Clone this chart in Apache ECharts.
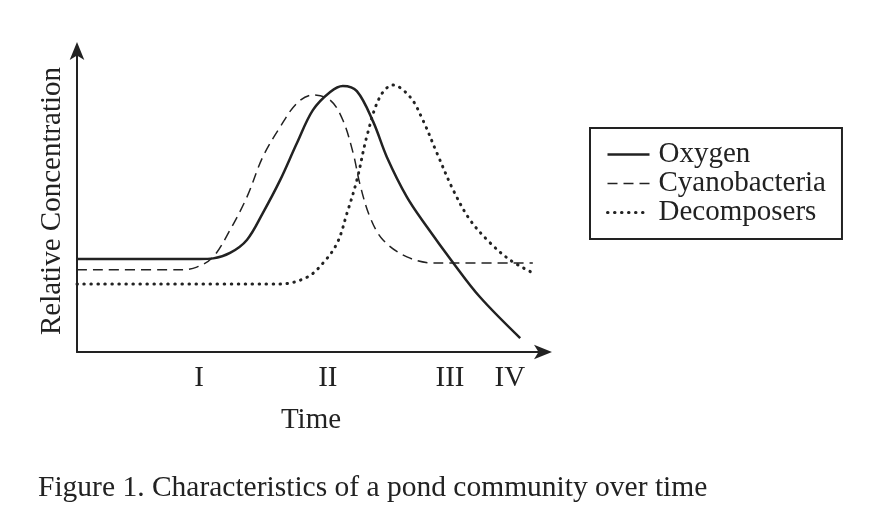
<!DOCTYPE html>
<html>
<head>
<meta charset="utf-8">
<script src="https://cdn.jsdelivr.net/npm/echarts@6/dist/echarts.min.js"></script>
<style>
  html, body { margin: 0; padding: 0; background: #fff; }
  #chart { width: 874px; height: 520px; }
</style>
</head>
<body>
<div id="chart"></div>
<script>
// Relative concentration over time (arbitrary units)
const oxygen = [
  [0, 30.8], [15.6, 30.8], [26.3, 30.8], [29.1, 31.0], [32.7, 32.8], [36.3, 37.1],
  [39.7, 46.0], [43.4, 56.9], [47.0, 69.2], [50.4, 80.1], [54.1, 86.1], [56.8, 88.1],
  [59.8, 86.4], [63.3, 76.2], [66.2, 64.6], [70.5, 51.3], [74.8, 41.4], [80.4, 29.5],
  [86.1, 18.2], [94.7, 4.6]
]
const cyanobacteria = [
  [0, 27.2], [22.0, 27.2], [25.6, 28.1], [29.1, 31.5], [32.7, 40.4], [36.3, 51.3],
  [39.7, 64.6], [43.4, 74.5], [47.0, 82.4], [50.4, 85.1], [54.1, 83.4], [56.8, 76.8],
  [59.0, 65.9], [60.5, 55.3], [62.6, 44.7], [65.4, 37.1], [70.5, 31.5], [76.1, 29.5],
  [97.4, 29.5]
]
const decomposers = [
  [0, 22.5], [43.4, 22.5], [49.2, 24.8], [52.6, 29.5], [55.6, 36.1], [57.7, 46.0],
  [59.8, 56.9], [62.0, 71.8], [64.7, 84.4], [67.5, 88.4], [71.2, 84.4], [73.9, 76.8],
  [76.9, 65.9], [80.4, 53.6], [84.0, 43.7], [88.3, 36.1], [92.5, 30.5], [97.4, 26.2]
]
const tickValues = [26.1, 53.6, 79.7, 92.5]
const tickLabels = ['I', 'II', 'III', 'IV']

const FONT = '"Liberation Serif", "DejaVu Serif", serif'
const INK = '#222'

const STYLES = {
  Oxygen: { width: 2.5, type: 'solid' },
  Cyanobacteria: { width: 1.5, type: [10, 6] },
  Decomposers: { width: 3, type: [0.5, 6.5], cap: 'round' },
}

const chart = echarts.init(document.getElementById('chart'), null, { renderer: 'canvas' })

const lineSeries = (name, data) => ({
  name: name,
  type: 'line',
  data: data,
  symbol: 'none',
  smooth: 0.35,
  silent: true,
  animation: false,
  lineStyle: Object.assign({ color: INK }, STYLES[name]),
  itemStyle: { color: INK },
})

chart.setOption({
  animation: false,
  backgroundColor: '#fff',
  title: {
    text: 'Figure 1. Characteristics of a pond community over time',
    left: 33,
    top: 468,
    textStyle: { fontFamily: FONT, fontSize: 29.5, fontWeight: 'normal', color: INK },
  },
  grid: { left: 77, right: 329, top: 50, bottom: 168 },
  legend: {
    orient: 'vertical',
    left: 590,
    top: 128,
    padding: [12, 16, 12, 16],
    itemGap: 0,
    itemWidth: 42,
    itemHeight: 28,
    borderColor: INK,
    borderWidth: 2,
    itemStyle: { opacity: 0 },
    textStyle: { fontFamily: FONT, fontSize: 29, lineHeight: 28, color: INK, padding: [0, 0, 0, 4] },
    data: Object.keys(STYLES).map((name) => ({
      name: name,
      lineStyle: Object.assign({ color: INK }, STYLES[name]),
    })),
  },
  xAxis: {
    type: 'value',
    min: 0,
    max: 100,
    name: 'Time',
    nameLocation: 'middle',
    nameGap: 54,
    nameTextStyle: { fontFamily: FONT, fontSize: 29, color: INK },
    axisLine: {
      lineStyle: { color: INK, width: 2 },
      symbol: ['none', 'arrow'],
      symbolSize: [11, 18],
      symbolOffset: [0, 7],
    },
    axisTick: { show: false },
    splitLine: { show: false },
    axisLabel: {
      customValues: tickValues,
      formatter: (v) => tickLabels[tickValues.indexOf(v)] || '',
      margin: 12,
      fontFamily: FONT,
      fontSize: 29,
      color: INK,
    },
  },
  yAxis: {
    type: 'value',
    min: 0,
    max: 100,
    name: 'Relative Concentration',
    nameLocation: 'middle',
    nameRotate: 90,
    nameGap: 10,
    nameTextStyle: { fontFamily: FONT, fontSize: 29, color: INK },
    axisLine: {
      lineStyle: { color: INK, width: 2 },
      symbol: ['none', 'arrow'],
      symbolSize: [11, 18],
      symbolOffset: [0, 8],
    },
    axisTick: { show: false },
    axisLabel: { show: false },
    splitLine: { show: false },
  },
  series: Object.keys(STYLES).map((name) =>
    lineSeries(name, { Oxygen: oxygen, Cyanobacteria: cyanobacteria, Decomposers: decomposers }[name])
  ),
})
</script>
</body>
</html>
